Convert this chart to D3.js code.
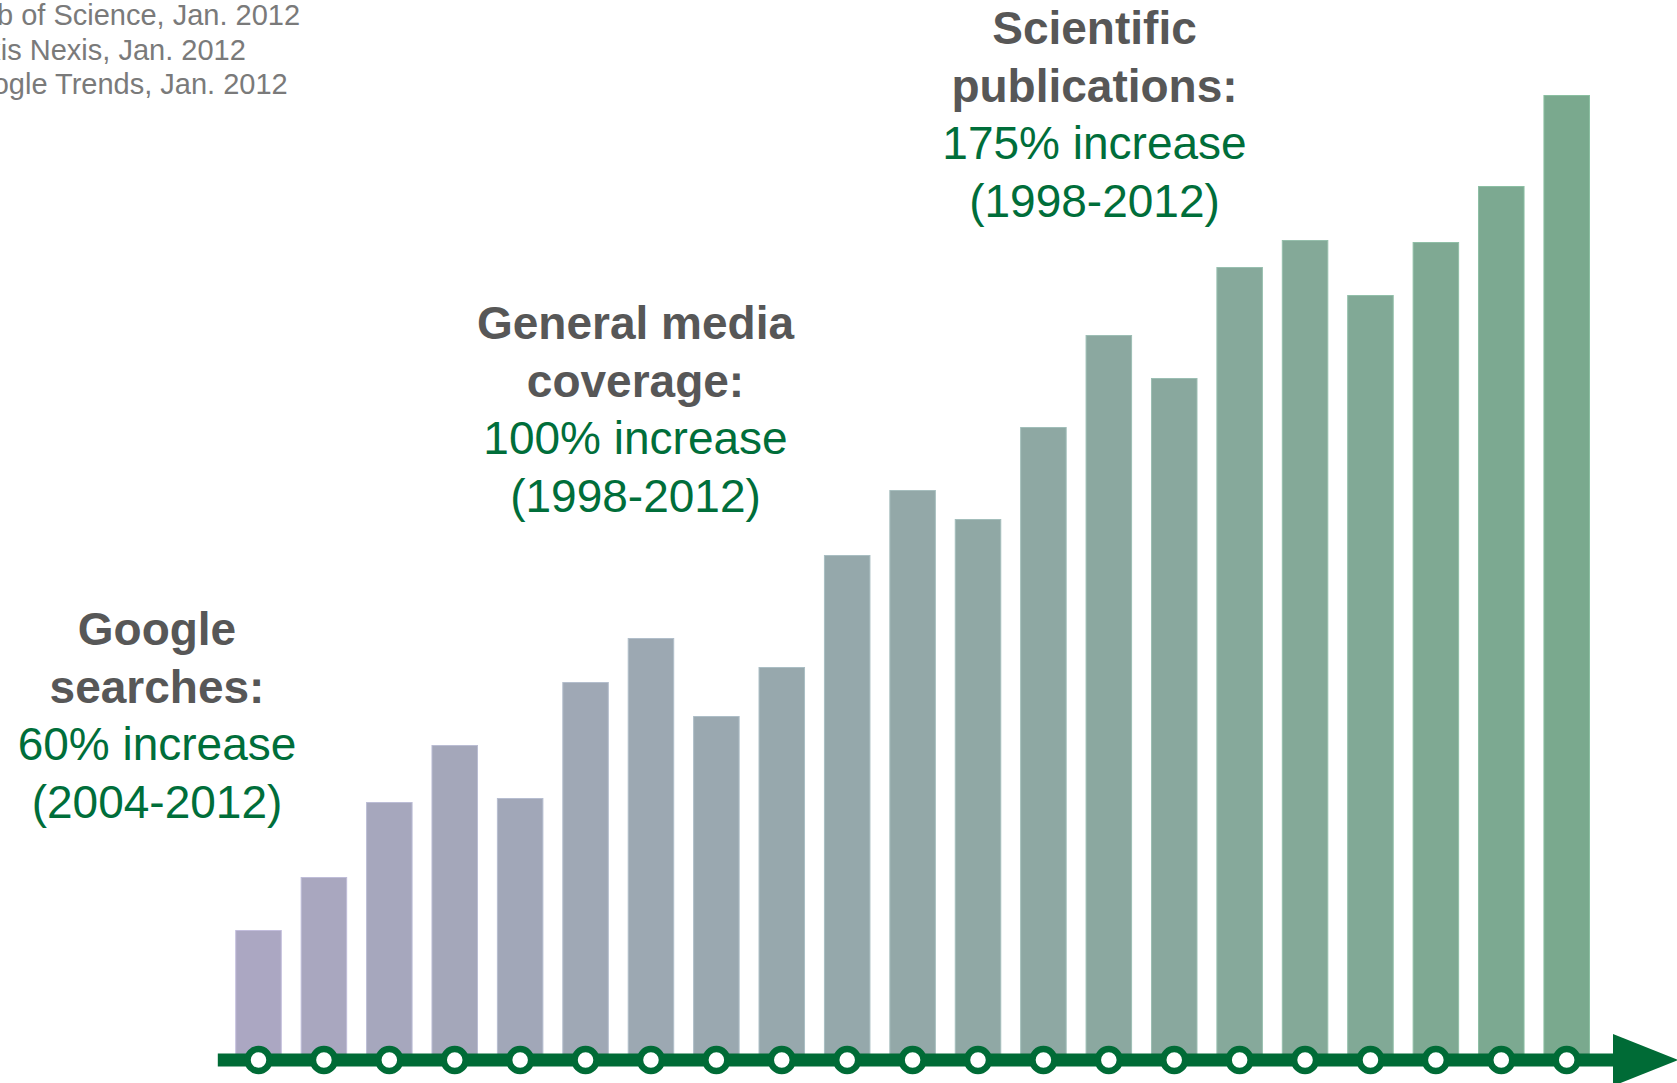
<!DOCTYPE html>
<html>
<head>
<meta charset="utf-8">
<script src="https://cdn.jsdelivr.net/npm/d3@7"></script>
<style>
  html, body { margin: 0; padding: 0; background: #ffffff; overflow: hidden; }
  svg { display: block; font-family: "Liberation Sans", Arial, Helvetica, sans-serif; }
</style>
</head>
<body>
<svg id="chart" width="1677" height="1083"></svg>
<script>
// Yearly attention index (relative units), one bar per year
const categories = ["1992","1993","1994","1995","1996","1997","1998","1999","2000","2001","2002",
                    "2003","2004","2005","2006","2007","2008","2009","2010","2011","2012"];
const values = [130, 183, 258, 315, 262, 378, 422, 344, 393, 505, 570,
                541, 633, 725, 682, 793, 820, 765, 818, 874, 965];

// Annotation blocks: bold heading lines, then green figure lines
const googleHeading = ["Google", "searches:"];
const googleFigure  = ["60% increase", "(2004-2012)"];
const mediaHeading  = ["General media", "coverage:"];
const mediaFigure   = ["100% increase", "(1998-2012)"];
const sciHeading    = ["Scientific", "publications:"];
const sciFigure     = ["175% increase", "(1998-2012)"];

const sources = ["Web of Science, Jan. 2012", "Lexis Nexis, Jan. 2012", "Google Trends, Jan. 2012"];

const W = 1677, H = 1083;
const baseY = 1060;
const green = "#006b36";
const textGreen = "#006e3a";
const headGrey = "#575757";

const svg = d3.select("#chart");

const x = d3.scaleBand()
  .domain(categories)
  .range([225.8, 1599.4])
  .paddingInner(0.289)
  .paddingOuter(0.1445);

const y = d3.scaleLinear().domain([0, 1000]).range([baseY, 60]);

const colour = d3.scaleLinear()
  .domain([0, categories.length - 1])
  .range(["#aba7c2", "#7aa98e"])
  .interpolate(d3.interpolateRgb);

// Bars
svg.append("g").selectAll("rect")
  .data(values)
  .join("rect")
  .attr("x", (d, i) => x(categories[i]) + 0.5)
  .attr("y", d => y(d) + 0.5)
  .attr("width", x.bandwidth() - 1)
  .attr("height", d => y(0) - y(d))
  .attr("fill", (d, i) => colour(i))
  .attr("stroke", (d, i) => d3.color(colour(i)).brighter(0.35))
  .attr("stroke-width", 1);

// Time axis with arrow head
const axisStart = x.range()[0] - 8;
const arrowBase = 1613;
const axis = svg.append("g");
axis.append("line")
  .attr("x1", axisStart).attr("x2", arrowBase + 2)
  .attr("y1", baseY).attr("y2", baseY)
  .attr("stroke", green).attr("stroke-width", 13);
axis.append("path")
  .attr("d", d3.line()([[arrowBase, baseY - 26], [W + 1, baseY], [arrowBase, baseY + 26]]) + "Z")
  .attr("fill", green);

// Year markers on the axis
axis.selectAll("circle")
  .data(categories)
  .join("circle")
  .attr("cx", d => x(d) + x.bandwidth() / 2)
  .attr("cy", baseY)
  .attr("r", 11)
  .attr("fill", "#ffffff")
  .attr("stroke", green)
  .attr("stroke-width", 6.5);

// Annotation blocks
function annotate(cx, firstBaseline, heading, figure) {
  const g = svg.append("g").attr("text-anchor", "middle").style("font-size", "46px");
  const lines = heading.map(t => ({t, bold: true})).concat(figure.map(t => ({t, bold: false})));
  g.selectAll("text")
    .data(lines)
    .join("text")
    .attr("x", cx)
    .attr("y", (d, i) => firstBaseline + i * 57.5)
    .attr("fill", d => d.bold ? headGrey : textGreen)
    .style("font-weight", d => d.bold ? "bold" : "normal")
    .text(d => d.t);
}
annotate(157, 645, googleHeading, googleFigure);
annotate(635.5, 339, mediaHeading, mediaFigure);
annotate(1094.5, 44, sciHeading, sciFigure);

// Sources, top left
svg.append("g").selectAll("text")
  .data(sources)
  .join("text")
  .attr("x", -46)
  .attr("y", (d, i) => 25 + i * 34.5)
  .attr("fill", "#7a7a7a")
  .style("font-size", "29px")
  .text(d => d);
</script>
</body>
</html>
